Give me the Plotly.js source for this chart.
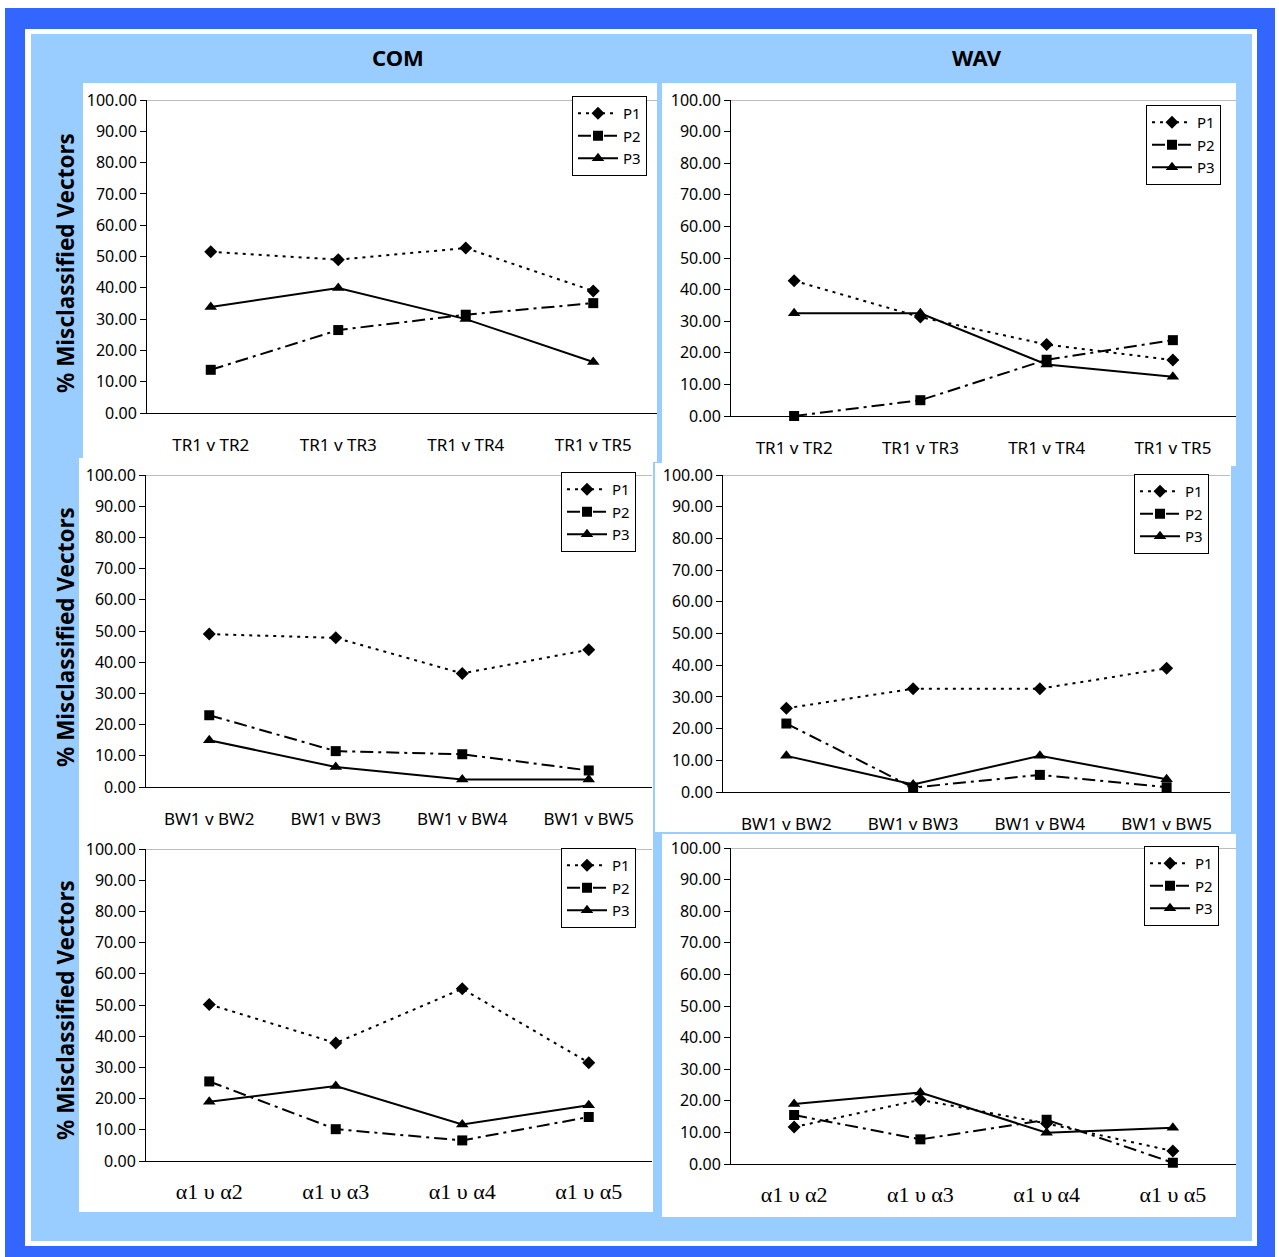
<!DOCTYPE html>
<html>
<head>
<meta charset="utf-8">
<script src="https://cdn.plot.ly/plotly-3.0.1.min.js"></script>
<style>html,body{margin:0;padding:0;background:#fff;}#chart{width:1279px;height:1257px;}</style>
</head>
<body>
<div id="chart"></div>
<script>
// ---- data ----
const catsTR = ['TR1 v TR2', 'TR1 v TR3', 'TR1 v TR4', 'TR1 v TR5'];
const catsBW = ['BW1 v BW2', 'BW1 v BW3', 'BW1 v BW4', 'BW1 v BW5'];
const catsA  = ['α1 υ α2', 'α1 υ α3', 'α1 υ α4', 'α1 υ α5'];
const seriesNames = ['P1', 'P2', 'P3'];
const columnTitles = ['COM', 'WAV'];
const yTitle = '% Misclassified Vectors';

const comTR_P1 = [51.5, 49.0, 52.7, 39.0];
const comTR_P2 = [13.8, 26.5, 31.4, 35.1];
const comTR_P3 = [33.9, 39.9, 30.0, 16.3];
const wavTR_P1 = [42.8, 31.3, 22.6, 17.7];
const wavTR_P2 = [0.0, 5.0, 17.8, 24.0];
const wavTR_P3 = [32.5, 32.5, 16.3, 12.4];
const comBW_P1 = [49.0, 47.8, 36.4, 44.0];
const comBW_P2 = [23.0, 11.5, 10.5, 5.3];
const comBW_P3 = [15.0, 6.4, 2.4, 2.4];
const wavBW_P1 = [26.4, 32.6, 32.6, 39.0];
const wavBW_P2 = [21.6, 1.4, 5.4, 1.5];
const wavBW_P3 = [11.4, 2.4, 11.4, 4.0];
const comA_P1 = [50.2, 37.8, 55.2, 31.5];
const comA_P2 = [25.5, 10.2, 6.6, 14.1];
const comA_P3 = [19.0, 24.0, 11.7, 17.9];
const wavA_P1 = [11.7, 20.3, 12.8, 4.1];
const wavA_P2 = [15.5, 7.8, 14.0, 0.4];
const wavA_P3 = [19.0, 22.6, 9.9, 11.5];

// ---- layout geometry (pixels) ----
const W = 1279, H = 1257;
const fx = p => p / W;
const fy = p => 1 - p / H;

const panels = [
  {cats: catsTR, data: [comTR_P1, comTR_P2, comTR_P3], plot: [147, 657, 100, 413], box: [83, 657, 83, 462], leg: [572, 96], serif: false},
  {cats: catsTR, data: [wavTR_P1, wavTR_P2, wavTR_P3], plot: [731, 1236, 100, 416], box: [662, 1236, 83, 466], leg: [1146, 105], serif: false},
  {cats: catsBW, data: [comBW_P1, comBW_P2, comBW_P3], plot: [146, 652, 475, 787], box: [79, 653, 458, 835], leg: [561, 472], serif: false},
  {cats: catsBW, data: [wavBW_P1, wavBW_P2, wavBW_P3], plot: [723, 1230, 475, 792], box: [655, 1231, 463, 832], leg: [1134, 474], serif: false},
  {cats: catsA,  data: [comA_P1, comA_P2, comA_P3], plot: [146, 652, 849, 1161], box: [79, 653, 835, 1212], leg: [561, 848], serif: true},
  {cats: catsA,  data: [wavA_P1, wavA_P2, wavA_P3], plot: [731, 1236, 848, 1164], box: [662, 1236, 834, 1217], leg: [1144, 846], serif: true}
];

const styles = [
  {dash: '3px,5px', symbol: 'diamond', size: 10},
  {dash: '13px,5px,3px,5px', symbol: 'square', size: 10},
  {dash: 'solid', symbol: 'triangle-up', size: 11}
];

const tickFont = {family: 'Noto Sans, sans-serif', size: 16, color: '#000'};
const traces = [];
const layout = {
  width: W, height: H,
  margin: {l: 0, r: 0, t: 0, b: 0},
  paper_bgcolor: '#ffffff',
  plot_bgcolor: 'rgba(0,0,0,0)',
  showlegend: true,
  shapes: [
    {type: 'rect', xref: 'paper', yref: 'paper', x0: fx(5), x1: fx(1275), y0: fy(8), y1: fy(1257), fillcolor: '#3366ff', line: {width: 0}, layer: 'below'},
    {type: 'rect', xref: 'paper', yref: 'paper', x0: fx(25), x1: fx(1257), y0: fy(29), y1: fy(1246), fillcolor: '#ffffff', line: {width: 0}, layer: 'below'},
    {type: 'rect', xref: 'paper', yref: 'paper', x0: fx(31), x1: fx(1252), y0: fy(34), y1: fy(1241), fillcolor: '#99ccff', line: {width: 0}, layer: 'below'}
  ],
  annotations: []
};

panels.forEach((p, i) => {
  const n = i + 1;
  const xa = 'x' + (n > 1 ? n : '');
  const ya = 'y' + (n > 1 ? n : '');
  const lg = 'legend' + (n > 1 ? n : '');
  p.data.forEach((vals, k) => {
    traces.push({
      type: 'scatter', mode: 'lines+markers',
      x: p.cats, y: vals, name: seriesNames[k],
      xaxis: xa, yaxis: ya, legend: lg,
      cliponaxis: false,
      line: {color: '#000', width: 2, dash: styles[k].dash},
      marker: {color: '#000', symbol: styles[k].symbol, size: styles[k].size}
    });
  });
  layout['xaxis' + (n > 1 ? n : '')] = {
    domain: [fx(p.plot[0]), fx(p.plot[1])],
    anchor: ya, type: 'category', range: [-0.5, 3.5],
    showline: true, linecolor: '#000', linewidth: 1,
    ticks: '', showgrid: false, zeroline: false,
    ticklabelstandoff: p.serif ? 11 : 17,
    tickfont: p.serif ? {family: 'Liberation Serif, serif', size: 22, color: '#000'} : {family: 'Noto Sans, sans-serif', size: 17, color: '#000'},
    fixedrange: true
  };
  layout['yaxis' + (n > 1 ? n : '')] = {
    domain: [fy(p.plot[3]), fy(p.plot[2])],
    anchor: xa, range: [0, 100], dtick: 10, tick0: 0,
    tickformat: '.2f', showline: true, linecolor: '#000', linewidth: 1,
    ticks: 'outside', ticklen: 6, tickcolor: '#000',
    showgrid: false, zeroline: false, tickfont: tickFont, fixedrange: true
  };
  layout[lg] = {
    x: fx(p.leg[0]), y: fy(p.leg[1]), xanchor: 'left', yanchor: 'top',
    bgcolor: '#ffffff', bordercolor: '#000', borderwidth: 1,
    font: {family: 'Noto Sans, sans-serif', size: 15, color: '#000'},
    itemwidth: 40, tracegroupgap: 0
  };
  // white panel background
  layout.shapes.push({type: 'rect', xref: 'paper', yref: 'paper',
    x0: fx(p.box[0]), x1: fx(p.box[1]), y0: fy(p.box[3]), y1: fy(p.box[2]),
    fillcolor: '#ffffff', line: {width: 0}, layer: 'below'});
  // grey top border of plot area
  layout.shapes.push({type: 'line', xref: xa + ' domain', yref: ya,
    x0: 0, x1: 1, y0: 100, y1: 100, line: {color: '#a6a6a6', width: 1.5}});
});

// column titles
columnTitles.forEach((t, j) => {
  layout.annotations.push({text: '<b>' + t + '</b>', xref: 'paper', yref: 'paper',
    x: fx(j === 0 ? 398 : 977), y: fy(57), xanchor: 'center', yanchor: 'middle',
    showarrow: false, font: {family: 'Noto Sans, sans-serif', size: 22, color: '#000'}});
});
// y titles
[263, 637, 1010].forEach(cy => {
  layout.annotations.push({text: '<b>' + yTitle + '</b>', xref: 'paper', yref: 'paper',
    x: fx(65), y: fy(cy), xanchor: 'center', yanchor: 'middle', textangle: -90,
    showarrow: false, font: {family: 'Noto Sans, sans-serif', size: 22.5, color: '#000'}});
});

Plotly.newPlot('chart', traces, layout, {displayModeBar: false, staticPlot: true});
</script>
</body>
</html>
